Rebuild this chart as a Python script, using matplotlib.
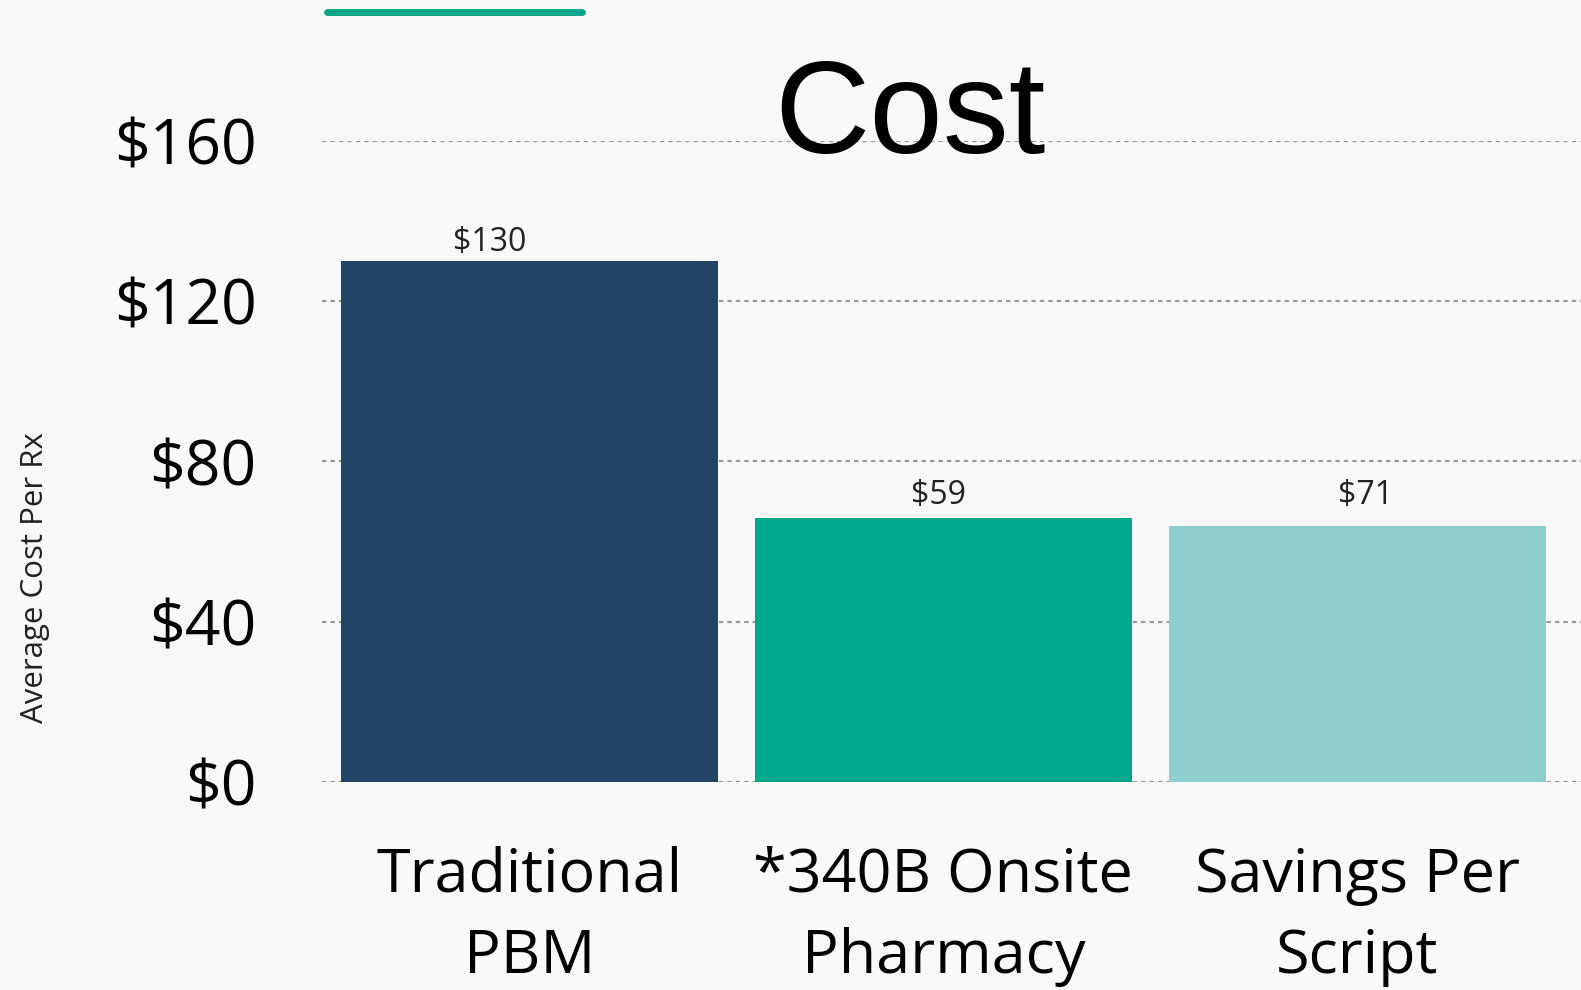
import matplotlib
matplotlib.use("Agg")
import matplotlib.pyplot as plt
from matplotlib.lines import Line2D

categories = ["Traditional\nPBM", "*340B Onsite\nPharmacy", "Savings Per\nScript"]
bar_heights = [130, 66, 64]
bar_labels = ["$130", "$59", "$71"]
y_ticks = [0, 40, 80, 120, 160]
y_tick_labels = ["$0", "$40", "$80", "$120", "$160"]

colors = ["#224466", "#00A98B", "#8ED0CF"]
bg = "#F9F9F9"

W, H = 1581, 990
fig = plt.figure(figsize=(W / 100, H / 100), dpi=100, facecolor=bg)
plt.rcParams['font.family'] = ['Open Sans', 'DejaVu Sans']

# axes placed in pixel terms of the reference
left, right, bottom, top = 322, 1581, 782, 141
ax = fig.add_axes([left / W, 1 - bottom / H, (right - left) / W, (bottom - top) / H])
ax.set_facecolor(bg)

x = list(range(len(categories)))
bars = ax.bar(x, bar_heights, width=0.91, color=colors, zorder=3)

# value labels (offsets in px, as seen in the original)
label_dx = [-40, -5, 8]
label_dy = [2, 6, 14]
for b, lab, dx, dy in zip(bars, bar_labels, label_dx, label_dy):
    ax.annotate(lab, (b.get_x() + b.get_width() / 2, b.get_height()),
                xytext=(dx * 0.72, dy * 0.72), textcoords="offset points",
                ha="center", va="bottom", fontsize=23, color="#222222")

ax.set_ylim(0, 160)
ax.set_xlim(-0.501, 2.54)
ax.set_yticks(y_ticks)
ax.set_yticklabels(y_tick_labels)
ax.set_xticks(x)
ax.set_xticklabels(categories, linespacing=1.45)
ax.tick_params(axis="y", length=0, pad=47, labelsize=45)
ax.tick_params(axis="x", length=0, pad=46, labelsize=44)

ax.grid(axis="y", color="#999999", linestyle=(0, (2, 1.8)), linewidth=1.6, zorder=1)
for s in ax.spines.values():
    s.set_visible(False)

# y label and title
fig.text(35 / W, 1 - 578 / H, "Average Cost Per Rx", rotation=90,
         ha="center", va="center", fontsize=22.5, color="#222222")
fig.text(910 / W, 1 - 153 / H, "Cost", ha="center", va="baseline",
         fontsize=95, family=["Liberation Sans", "DejaVu Sans"], color="black")

# accent line at the top
fig.add_artist(Line2D([327 / W, 582 / W], [1 - 12 / H, 1 - 12 / H],
                      transform=fig.transFigure, color="#0AA58A",
                      linewidth=5, solid_capstyle="round"))

fig.savefig("out.png", dpi=100, facecolor=bg)
